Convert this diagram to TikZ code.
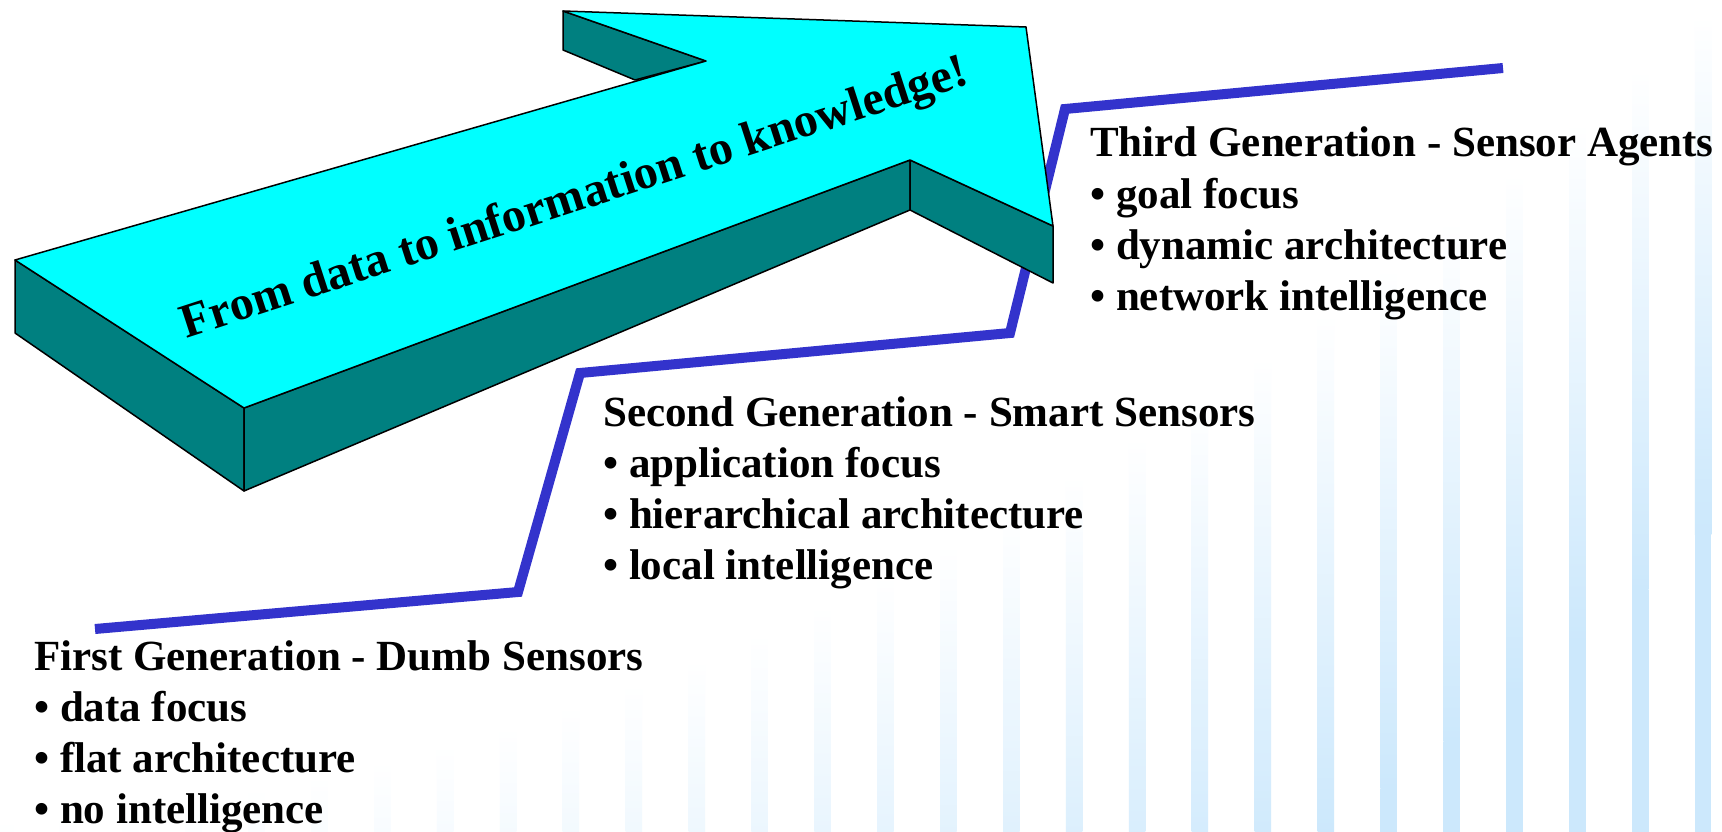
\documentclass[tikz,border=0pt]{standalone}
\usepackage{fontspec}
\setmainfont{Liberation Serif}
\definecolor{arrowtop}{RGB}{0,255,255}
\definecolor{arrowside}{RGB}{0,128,128}
\definecolor{stepblue}{RGB}{51,51,204}
\definecolor{barblue}{RGB}{204,232,252}
\begin{document}
\begin{tikzpicture}[x=1pt,y=-1pt,
  face/.style={draw=black,line width=1.5pt,line join=round},
  topface/.style={face,fill=arrowtop},
  sideface/.style={face,fill=arrowside},
  stepline/.style={draw=stepblue,line width=10pt,line join=miter,line cap=butt},
  genline/.style={anchor=base west,inner sep=0pt,font=\fontsize{43pt}{51pt}\selectfont\bfseries},
  slogan/.style={rotate=18,anchor=base,inner sep=0pt,font=\fontsize{48pt}{48pt}\selectfont\bfseries}]
\useasboundingbox (0,0) rectangle (1722,832);
\fill[white] (0,0) rectangle (1722,832);

% background stripes, rising towards the right, fading in from the top
\foreach \k in {-1,...,26}{
  \pgfmathsetmacro{\bx}{59.5+62.9*\k}
  \pgfmathsetmacro{\bu}{(\bx+8)/1000}
  \pgfmathsetmacro{\bt}{839.5-61.7*\bu-241.2*\bu*\bu-20}
  \pgfmathsetmacro{\blen}{832-\bt}
  \pgfmathsetmacro{\bpct}{min(100,\blen/5.2)}
  \pgfmathsetmacro{\bmid}{min(832,\bt+520)}
  \shade[top color=white,bottom color=barblue!\bpct!white] (\bx,\bt) rectangle (\bx+16.5,\bmid);
  \fill[barblue] (\bx,\bmid) rectangle (\bx+16.5,832);
}

% the stair line
\coordinate (s0) at (95,629);
\coordinate (s1) at (518,592);
\coordinate (s2) at (580,373);
\coordinate (s3) at (1010,333);
\coordinate (s4) at (1065,109);
\coordinate (s5) at (1503,68);
\draw[stepline] (s0) -- (s1) -- (s2) -- (s3) -- (s4) -- (s5);

% the 3D arrow
\coordinate (A) at (15,260);
\coordinate (B) at (706,61);
\coordinate (C) at (563,11);
\coordinate (D) at (1026,27);
\coordinate (E) at (1053,226);
\coordinate (F) at (910,160);
\coordinate (G) at (244,408);
\coordinate (A') at (15,333);
\coordinate (G') at (244,491);
\coordinate (F') at (910,210);
\coordinate (E') at (1053,283);
\coordinate (C') at (563,50);
\coordinate (P) at (635,80);
\filldraw[sideface] (A) -- (G) -- (G') -- (A') -- cycle;
\filldraw[sideface] (G) -- (F) -- (F') -- (G') -- cycle;
\filldraw[sideface] (F) -- (E) -- (E') -- (F') -- cycle;
\filldraw[sideface] (C) -- (B) -- (P) -- (C') -- cycle;
\filldraw[topface] (A) -- (B) -- (C) -- (D) -- (E) -- (F) -- (G) -- cycle;
\node[slogan] (motto) at (579,211) {From data to information to knowledge!};

% generations
\node[genline] (g3t) at (1090,157) {Third Generation - Sensor Agents};
\node[genline] (g3a) at (1090,208) {• goal focus};
\node[genline] (g3b) at (1090,259) {• dynamic architecture};
\node[genline] (g3c) at (1090,310) {• network intelligence};

\node[genline] (g2t) at (603,426) {Second Generation - Smart Sensors};
\node[genline] (g2a) at (603,477) {• application focus};
\node[genline] (g2b) at (603,528) {• hierarchical architecture};
\node[genline] (g2c) at (603,579) {• local intelligence};

\node[genline] (g1t) at (34,670) {First Generation - Dumb Sensors};
\node[genline] (g1a) at (34,721) {• data focus};
\node[genline] (g1b) at (34,772) {• flat architecture};
\node[genline] (g1c) at (34,823) {• no intelligence};
\end{tikzpicture}
\end{document}
